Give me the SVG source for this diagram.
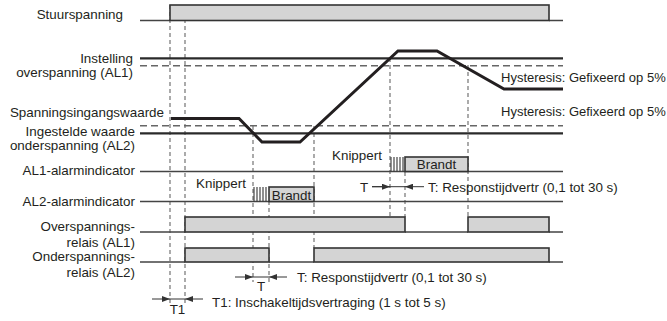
<svg xmlns="http://www.w3.org/2000/svg" width="667" height="321" viewBox="0 0 667 321">
<defs>
<style>
.t{font-family:"Liberation Sans",Arial,Helvetica,sans-serif;font-size:13.4px;fill:#231f20}
.e{text-anchor:end}
.m{text-anchor:middle}
.box{fill:#d4d4d4;stroke:#333;stroke-width:1.6}
.base{fill:none;stroke:#444;stroke-width:1.4}
.ref{fill:none;stroke:#2a2a2a;stroke-width:2.2}
.refd{fill:none;stroke:#666;stroke-width:1.6;stroke-dasharray:7,4}
.vd{fill:none;stroke:#666;stroke-width:1.1;stroke-dasharray:4,3}
.curve{fill:none;stroke:#231f20;stroke-width:3;stroke-linejoin:miter}
.hatch{stroke:#333;stroke-width:1.1}
.dim{fill:none;stroke:#333;stroke-width:1}
</style>
<marker id="ah" viewBox="0 0 8 6" refX="8" refY="3" markerWidth="8" markerHeight="6" markerUnits="userSpaceOnUse" orient="auto">
<path d="M0,0 L8,3 L0,6 Z" fill="#333"/>
</marker>
</defs>
<rect width="667" height="321" fill="#fff"/>

<g id="labels">
<text class="t e" x="123" y="19">Stuurspanning</text>
<text class="t e" x="133" y="62.5">Instelling<tspan x="133" dy="14">overspanning (AL1)</tspan></text>
<text class="t e" x="164" y="117">Spanningsingangswaarde</text>
<text class="t e" x="135" y="136">Ingestelde waarde<tspan x="135" dy="14">onderspanning (AL2)</tspan></text>
<text class="t e" x="135" y="175">AL1-alarmindicator</text>
<text class="t e" x="135" y="206">AL2-alarmindicator</text>
<text class="t e" x="135" y="231.3">Overspannings-<tspan x="135" dy="15.7">relais (AL1)</tspan></text>
<text class="t e" x="135" y="261.3">Onderspannings-<tspan x="135" dy="15.2">relais (AL2)</tspan></text>
</g>

<g id="guides">
<line class="vd" x1="170" y1="5" x2="170" y2="306"/>
<line class="vd" x1="185" y1="5" x2="185" y2="306"/>
<line class="vd" x1="253" y1="126" x2="253" y2="282"/>
<line class="vd" x1="269" y1="201" x2="269" y2="282"/>
<line class="vd" x1="314" y1="126" x2="314" y2="248"/>
<line class="vd" x1="390" y1="58" x2="390" y2="232"/>
<line class="vd" x1="405" y1="172" x2="405" y2="217"/>
<line class="vd" x1="468" y1="65" x2="468" y2="217"/>
</g>

<g id="stuurspanning">
<path class="base" d="M140,20.5 H170 M549,20.5 H563"/>
<rect class="box" x="170" y="5" width="379" height="15.5"/>
</g>

<g id="setpoints">
<line class="ref" x1="140" y1="58.3" x2="563" y2="58.3"/>
<line class="refd" x1="140" y1="65.7" x2="563" y2="65.7"/>
<line class="refd" x1="140" y1="125.7" x2="563" y2="125.7"/>
<line class="ref" x1="140" y1="133.3" x2="563" y2="133.3"/>
<text class="t" x="501" y="82" style="font-size:13px">Hysteresis: Gefixeerd op 5%</text>
<text class="t" x="501" y="116" style="font-size:13px">Hysteresis: Gefixeerd op 5%</text>
</g>

<g id="input-curve">
<polyline class="curve" points="171,118.5 239,118.5 262,142 300,142 398,51 437,51 504,89 563,89"/>
</g>

<g id="al1-indicator">
<line class="base" x1="140" y1="171.5" x2="563" y2="171.5"/>
<path class="hatch" d="M391,157 V171.5 M394,157 V171.5 M397,157 V171.5 M400,157 V171.5 M403,157 V171.5"/>
<rect class="box" x="405" y="157" width="63" height="14.5"/>
<text class="t m" x="436.5" y="168.8">Brandt</text>
<text class="t" x="332" y="160">Knippert</text>
</g>

<g id="al2-indicator">
<line class="base" x1="140" y1="201.5" x2="563" y2="201.5"/>
<path class="hatch" d="M254,187 V201.5 M257,187 V201.5 M260,187 V201.5 M263,187 V201.5 M266,187 V201.5"/>
<rect class="box" x="269" y="187" width="45" height="14.5"/>
<text class="t m" x="291.5" y="200.3">Brandt</text>
<text class="t" x="196" y="187.5">Knippert</text>
</g>

<g id="al1-relay">
<path class="base" d="M140,232 H185 M405,232 H468 M549,232 H563"/>
<rect class="box" x="185" y="217" width="220" height="15"/>
<rect class="box" x="468" y="217" width="81" height="15"/>
</g>

<g id="al2-relay">
<path class="base" d="M140,262 H185 M269,262 H314 M549,262 H563"/>
<rect class="box" x="185" y="248" width="84" height="14"/>
<rect class="box" x="314" y="248" width="235" height="14"/>
</g>

<g id="connectors">
<line class="dim" x1="372" y1="186.7" x2="405" y2="186.7"/>
<line class="dim" x1="372" y1="186.7" x2="390" y2="186.7" marker-end="url(#ah)"/>
<line class="dim" x1="424" y1="186.7" x2="405" y2="186.7" marker-end="url(#ah)"/>
<line class="dim" x1="235" y1="277" x2="253" y2="277" marker-end="url(#ah)"/>
<line class="dim" x1="253" y1="277" x2="269" y2="277"/>
<line class="dim" x1="287" y1="277" x2="269" y2="277" marker-end="url(#ah)"/>
<line class="dim" x1="152" y1="299" x2="170" y2="299" marker-end="url(#ah)"/>
<line class="dim" x1="170" y1="299" x2="185" y2="299"/>
<line class="dim" x1="203" y1="299" x2="185" y2="299" marker-end="url(#ah)"/>
</g>

<g id="timing-labels">
<text class="t m" x="364" y="192">T</text>
<text class="t" x="428" y="192">T: Responstijdvertr (0,1 tot 30 s)</text>
<text class="t m" x="261" y="290.5">T</text>
<text class="t" x="212" y="306.5">T1: Inschakeltijdsvertraging (1 s tot 5 s)</text>
<text class="t" x="297" y="282">T: Responstijdvertr (0,1 tot 30 s)</text>
<text class="t m" x="177.5" y="314">T1</text>
</g>
</svg>
